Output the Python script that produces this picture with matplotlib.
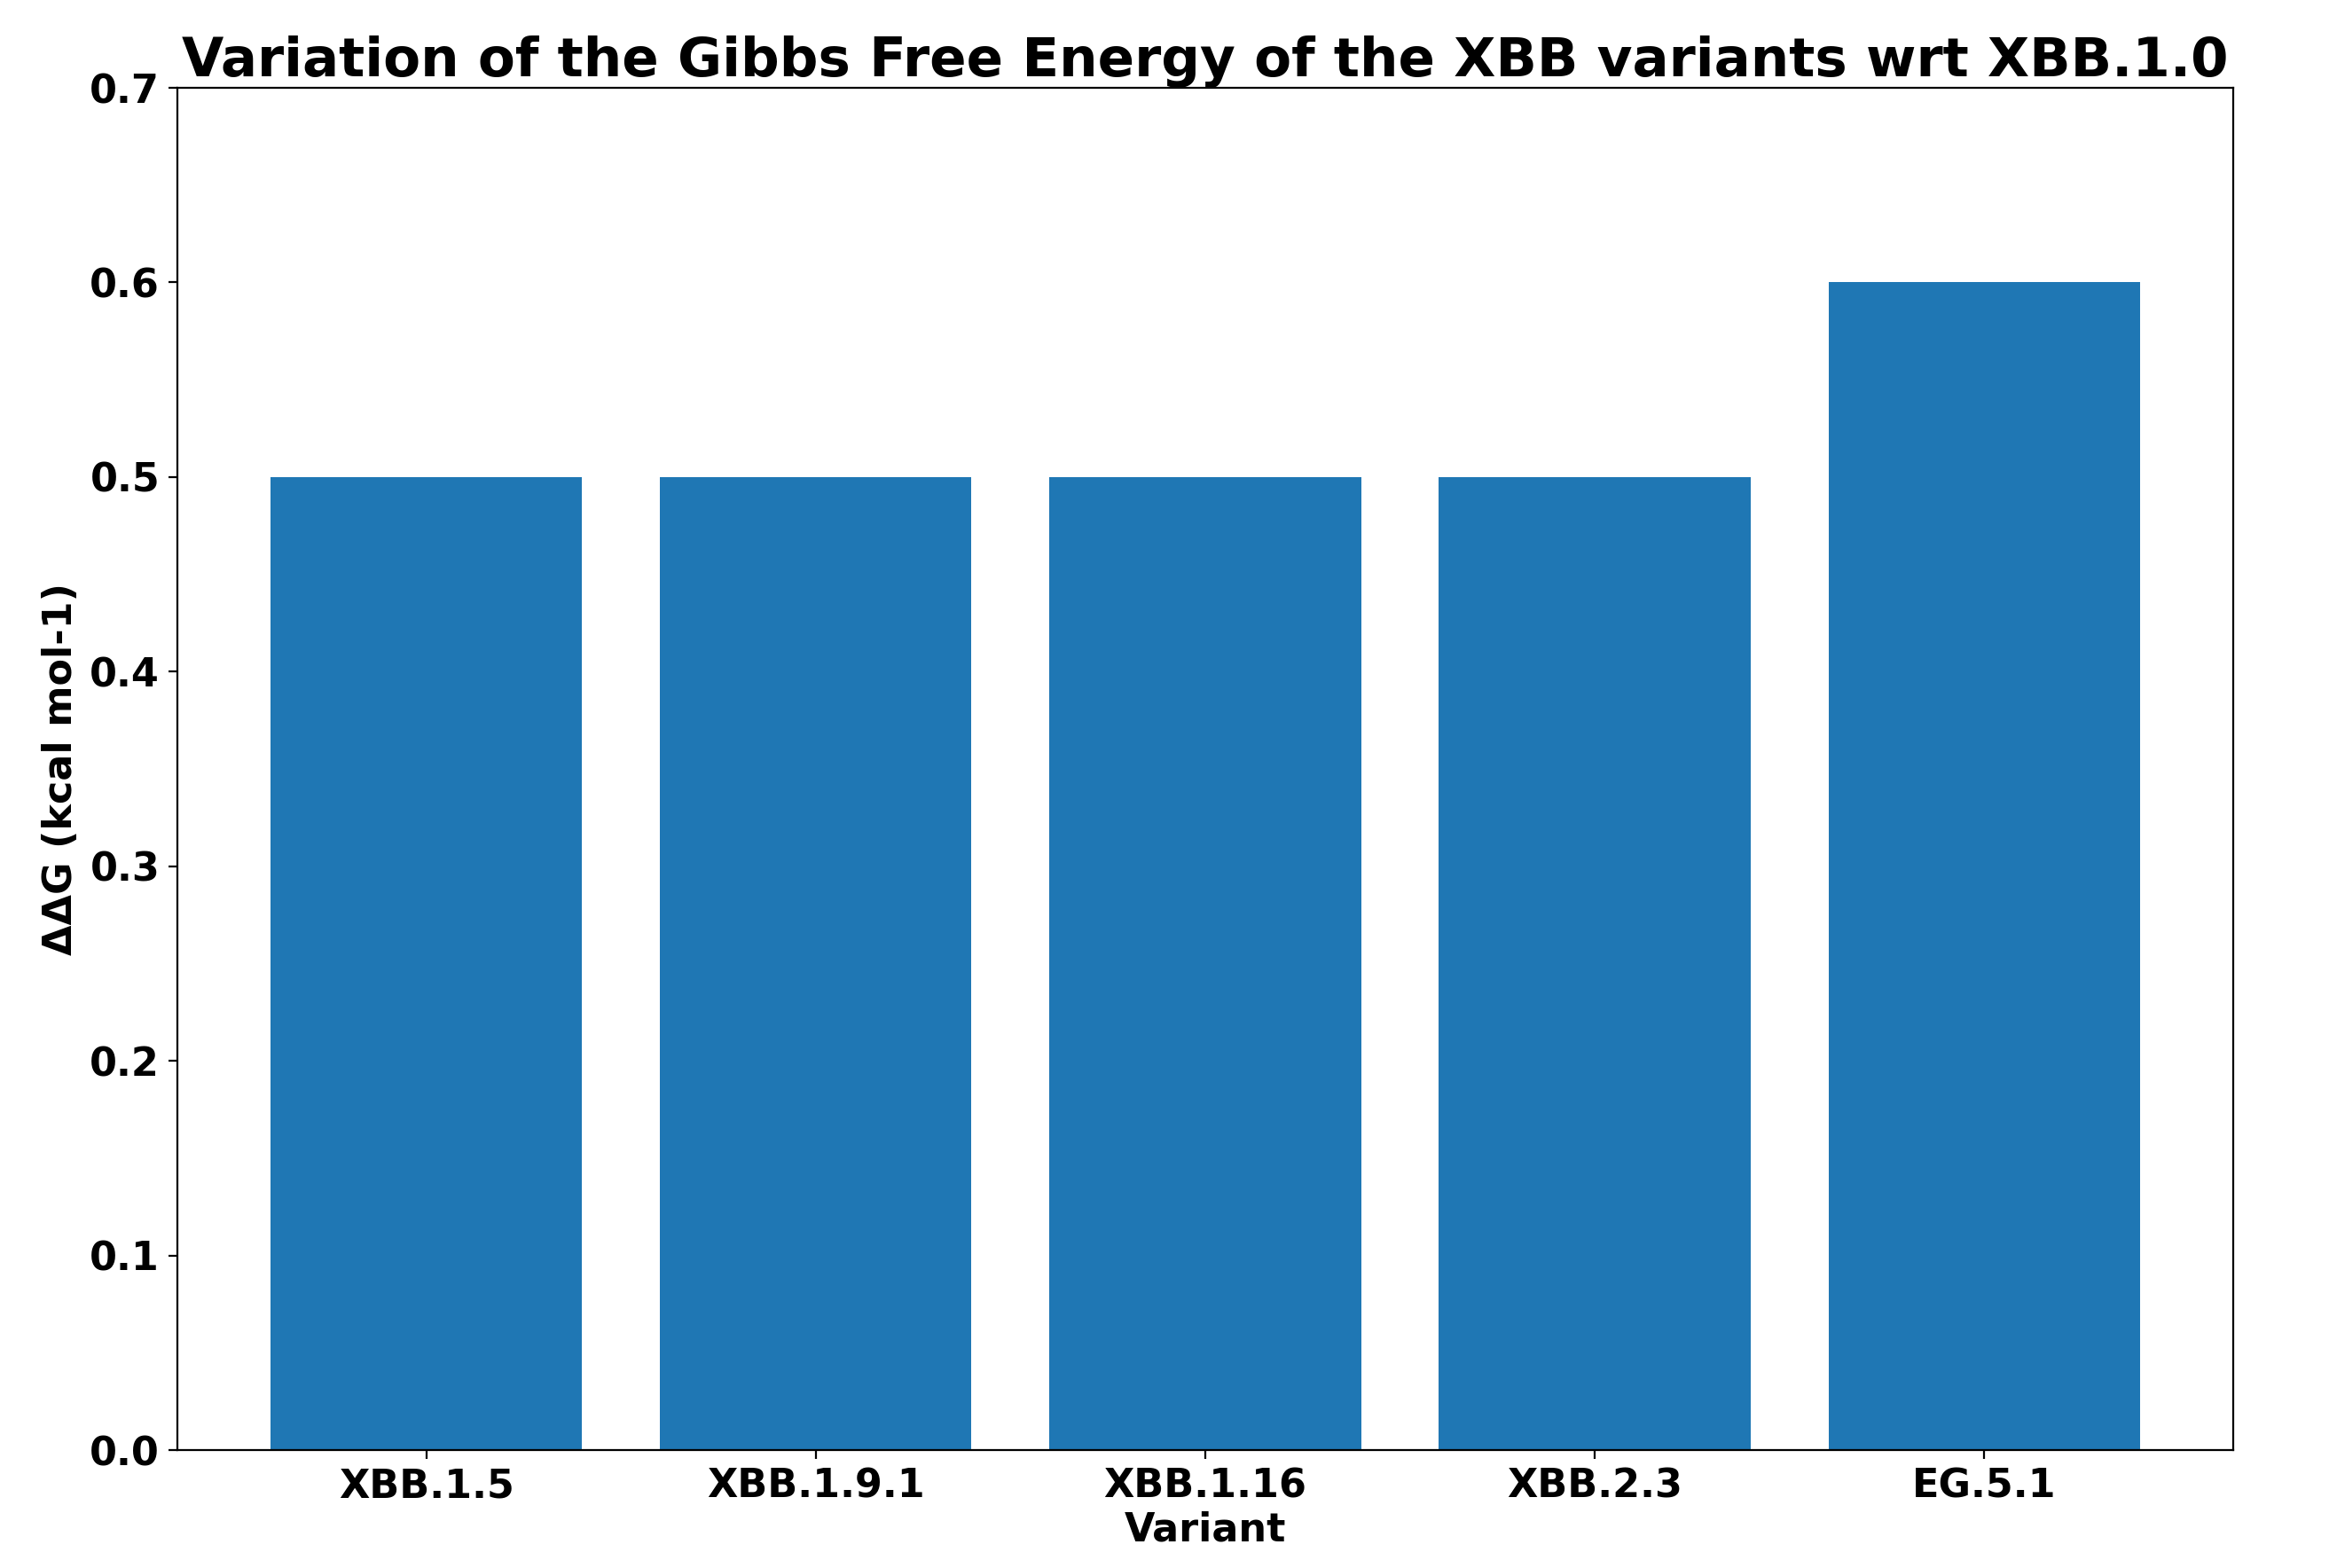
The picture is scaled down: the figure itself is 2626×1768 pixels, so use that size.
import matplotlib.pyplot as plt

variants = ['XBB.1.5', 'XBB.1.9.1', 'XBB.1.16', 'XBB.2.3', 'EG.5.1']
ddg = [0.5, 0.5, 0.5, 0.5, 0.6]

plt.rcParams['font.weight'] = 'bold'
fig, ax = plt.subplots(figsize=(13.13, 8.84), dpi=200)
fig.subplots_adjust(left=0.076, right=0.959, top=0.944, bottom=0.075)

ax.bar(variants, ddg, color='#1f77b4')
ax.set_ylim(0, 0.7)
ax.set_xlabel('Variant', fontsize=16, fontweight='bold', labelpad=2)
ax.set_ylabel('ΔΔG (kcal mol-1)', fontsize=16, fontweight='bold')
ax.set_title('Variation of the Gibbs Free Energy of the XBB variants wrt XBB.1.0',
             fontsize=22, fontweight='bold', pad=2)
ax.tick_params(labelsize=16)
for lbl in ax.get_xticklabels() + ax.get_yticklabels():
    lbl.set_fontweight('bold')

plt.savefig('out.png')
